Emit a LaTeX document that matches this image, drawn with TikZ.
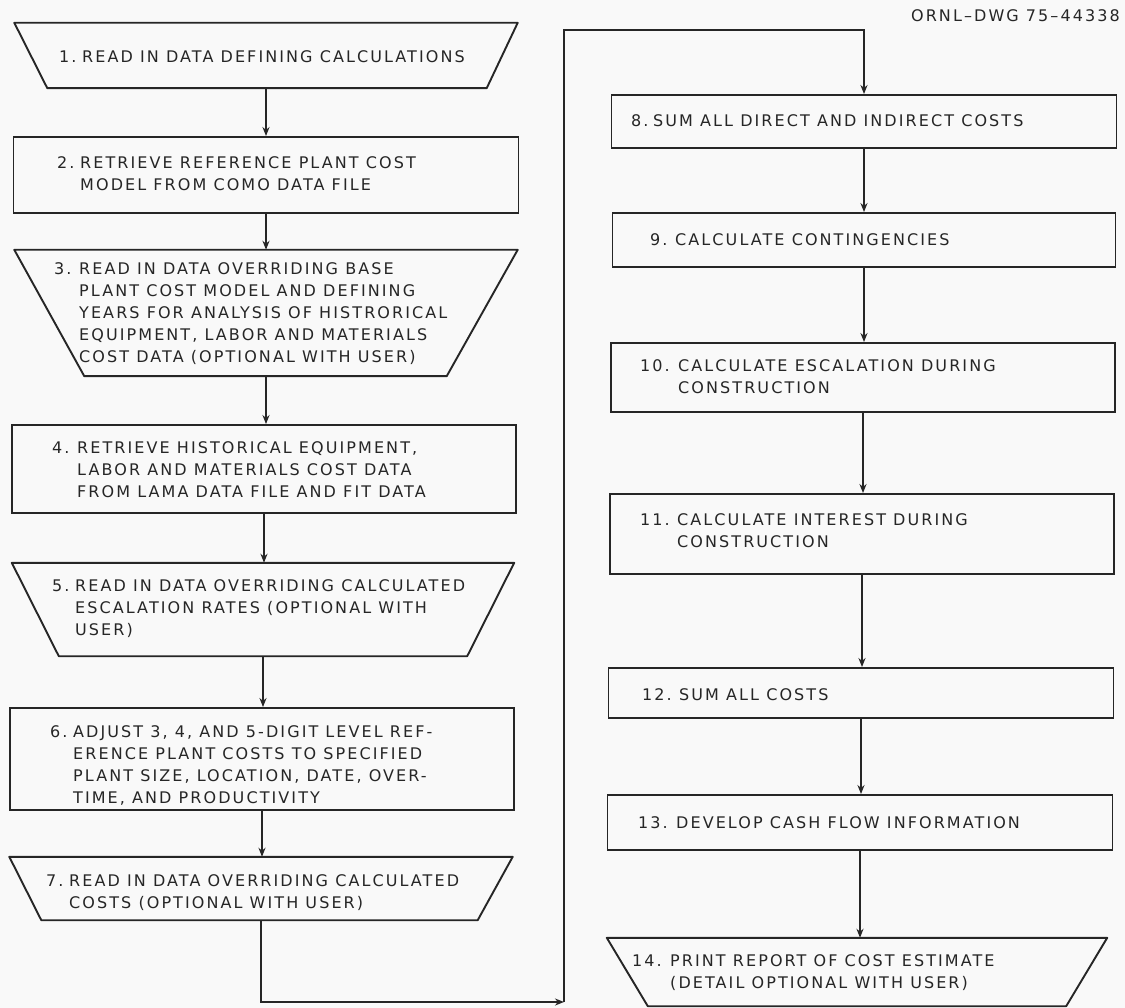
\documentclass[tikz,border=0pt]{standalone}
\usepackage{fontspec}
\setmainfont{DejaVu Sans}[LetterSpace=13]
\usetikzlibrary{arrows.meta}
\definecolor{ink}{rgb}{0.15,0.15,0.15}
\definecolor{paper}{rgb}{0.975,0.975,0.975}
% number column + hanging text lines
\newcommand{\stepcell}[3]{\begin{tabular}[t]{@{}p{#1}@{}l@{}}#2&#3\end{tabular}}

\begin{document}
\begin{tikzpicture}[x=1pt,y=-1pt,
  rectbox/.style={draw=ink, line width=1.9pt, inner sep=0pt},
  area/.style={inner sep=0pt},
  trap/.style={draw=ink, line width=1.9pt, line join=round},
  steptext/.style={anchor=base west, inner sep=0pt, text=ink, font=\fontsize{16}{22}\selectfont},
  flow/.style={draw=ink, line width=2pt, -{Stealth[length=9pt,width=7pt]}}]

\fill[paper] (0,0) rectangle (1125,1008);
\useasboundingbox (0,0) rectangle (1125,1008);

% ---------- left column ----------
\node[area, minimum width=503pt, minimum height=65pt] (b1) at (266,55.5) {};
\draw[trap] (b1.north west) -- (b1.north east) -- ([xshift=-31pt]b1.south east) -- ([xshift=33pt]b1.south west) -- cycle;

\node[rectbox, minimum width=505pt, minimum height=76pt] (b2) at (266,175) {};

\node[area, minimum width=503pt, minimum height=126pt] (b3) at (266,313) {};
\draw[trap] (b3.north west) -- (b3.north east) -- ([xshift=-71pt]b3.south east) -- ([xshift=70pt]b3.south west) -- cycle;

\node[rectbox, minimum width=504pt, minimum height=88pt] (b4) at (264,469) {};

\node[area, minimum width=502pt, minimum height=93pt] (b5) at (263,609.5) {};
\draw[trap] (b5.north west) -- (b5.north east) -- ([xshift=-47pt]b5.south east) -- ([xshift=47pt]b5.south west) -- cycle;

\node[rectbox, minimum width=504pt, minimum height=102pt] (b6) at (262,759) {};

\node[area, minimum width=503pt, minimum height=63pt] (b7) at (261,888.5) {};
\draw[trap] (b7.north west) -- (b7.north east) -- ([xshift=-35pt]b7.south east) -- ([xshift=32pt]b7.south west) -- cycle;

% ---------- right column ----------
\node[rectbox, minimum width=505pt, minimum height=53pt] (b8) at (864,121.5) {};
\node[rectbox, minimum width=503pt, minimum height=54pt] (b9) at (864,240) {};
\node[rectbox, minimum width=504pt, minimum height=69pt] (b10) at (863,377.5) {};
\node[rectbox, minimum width=504pt, minimum height=80pt] (b11) at (862,534) {};
\node[rectbox, minimum width=505pt, minimum height=50pt] (b12) at (861,693) {};
\node[rectbox, minimum width=505pt, minimum height=55pt] (b13) at (860,822.5) {};

\node[area, minimum width=500pt, minimum height=68pt] (b14) at (857,972) {};
\draw[trap] (b14.north west) -- (b14.north east) -- ([xshift=-41pt]b14.south east) -- ([xshift=41pt]b14.south west) -- cycle;

% ---------- texts ----------
\node[steptext] (t1) at (59,63) {\stepcell{23pt}{1.}{READ IN DATA DEFINING CALCULATIONS}};
\node[steptext] (t2) at (57,169) {\stepcell{23pt}{2.}{RETRIEVE REFERENCE PLANT COST\\ & MODEL FROM COMO DATA FILE}};
\node[steptext] (t3) at (54,275) {\stepcell{25pt}{3.}{READ IN DATA OVERRIDING BASE\\ & PLANT COST MODEL AND DEFINING\\ & YEARS FOR ANALYSIS OF HISTRORICAL\\ & EQUIPMENT, LABOR AND MATERIALS\\ & COST DATA (OPTIONAL WITH USER)}};
\node[steptext] (t4) at (52,453) {\stepcell{25pt}{4.}{RETRIEVE HISTORICAL EQUIPMENT,\\ & LABOR AND MATERIALS COST DATA\\ & FROM LAMA DATA FILE AND FIT DATA}};
\node[steptext] (t5) at (52,591) {\stepcell{23pt}{5.}{READ IN DATA OVERRIDING CALCULATED\\ & ESCALATION RATES (OPTIONAL WITH\\ & USER)}};
\node[steptext] (t6) at (50,737) {\stepcell{23pt}{6.}{ADJUST 3, 4, AND 5-DIGIT LEVEL REF-\\ & ERENCE PLANT COSTS TO SPECIFIED\\ & PLANT SIZE, LOCATION, DATE, OVER-\\ & TIME, AND PRODUCTIVITY}};
\node[steptext] (t7) at (46,886) {\stepcell{23pt}{7.}{READ IN DATA OVERRIDING CALCULATED\\ & COSTS (OPTIONAL WITH USER)}};

\node[steptext] (t8) at (631,127) {\stepcell{22pt}{8.}{SUM ALL DIRECT AND INDIRECT COSTS}};
\node[steptext] (t9) at (650,246) {\stepcell{25pt}{9.}{CALCULATE CONTINGENCIES}};
\node[steptext] (t10) at (640,372) {\stepcell{38pt}{10.}{CALCULATE ESCALATION DURING\\ & CONSTRUCTION}};
\node[steptext] (t11) at (640,525) {\stepcell{37pt}{11.}{CALCULATE INTEREST DURING\\ & CONSTRUCTION}};
\node[steptext] (t12) at (642,700) {\stepcell{37pt}{12.}{SUM ALL COSTS}};
\node[steptext] (t13) at (638,828) {\stepcell{38pt}{13.}{DEVELOP CASH FLOW INFORMATION}};
\node[steptext] (t14) at (632,966) {\stepcell{38pt}{14.}{PRINT REPORT OF COST ESTIMATE\\ & (DETAIL OPTIONAL WITH USER)}};

\node[steptext, anchor=base east] (dwg) at (1120,22) {ORNL–DWG 75–44338};

% ---------- connectors ----------
\draw[flow] (b1.south) -- (b1.south |- b2.north);
\draw[flow] (b2.south) -- (b2.south |- b3.north);
\draw[flow] (b3.south) -- (b3.south |- b4.north);
\draw[flow] (b4.south) -- (b4.south |- b5.north);
\draw[flow] (b5.south) -- (b5.south |- b6.north);
\draw[flow] (b6.south) -- (b6.south |- b7.north);

\coordinate (turn) at (564,1002);
\coordinate (top) at (564,30);
\draw[flow] (b7.south) |- (turn);
\draw[flow] (turn) -- (top) -| (b8.north);

\draw[flow] (b8.south) -- (b8.south |- b9.north);
\draw[flow] (b9.south) -- (b9.south |- b10.north);
\draw[flow] (b10.south) -- (b10.south |- b11.north);
\draw[flow] (b11.south) -- (b11.south |- b12.north);
\draw[flow] (b12.south) -- (b12.south |- b13.north);
\draw[flow] (b13.south) -- (b13.south |- b14.north);
\end{tikzpicture}
\end{document}
